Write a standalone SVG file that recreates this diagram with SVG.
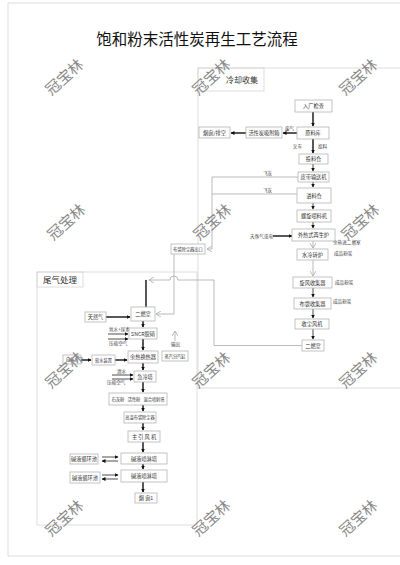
<svg xmlns="http://www.w3.org/2000/svg" width="400" height="565" viewBox="0 0 400 565">
<style>
.bx{fill:#fff;stroke:#b5b5b5;stroke-width:0.8}
.t{font-family:"Noto Sans CJK SC","Noto Sans",sans-serif;font-size:5.2px;fill:#333;text-anchor:middle}
.ts{font-family:"Noto Sans CJK SC","Noto Sans",sans-serif;font-size:4.2px;fill:#333;text-anchor:middle}
.tl{font-family:"Noto Sans CJK SC","Noto Sans",sans-serif;font-size:4.6px;fill:#444}
.blk{stroke:#111;stroke-width:1.4;fill:none}
.thn{stroke:#222;stroke-width:0.8;fill:none}
.gry{stroke:#aaa;stroke-width:0.8;fill:none}
.sec{fill:none;stroke:#d4d4d4;stroke-width:0.8}
.wm{font-family:"Noto Sans CJK SC",sans-serif;font-size:15px;fill:#8a8a8a;text-anchor:middle}
</style>
<defs>
<marker id="ab" markerWidth="4" markerHeight="4" refX="3.5" refY="2" orient="auto" markerUnits="userSpaceOnUse"><path d="M0,0 L4,2 L0,4 Z" fill="#111"/></marker>
<marker id="ag" markerWidth="6" markerHeight="6" refX="5" refY="3" orient="auto" markerUnits="userSpaceOnUse"><path d="M0,0 L5,3 L0,6" fill="none" stroke="#aaa" stroke-width="0.8"/></marker>
</defs>
<rect width="400" height="565" fill="#fff"/>
<path class="sec" d="M8,3 H400 M8,3 V556 H400"/>
<text x="197" y="45" font-family="'Noto Sans CJK SC',sans-serif" font-size="15.5" fill="#111" text-anchor="middle">饱和粉末活性炭再生工艺流程</text>
<g id="sections">
<path class="sec" d="M198,68 H400 M198,68 V388 H400"/>
<rect class="sec" x="198" y="68" width="66" height="23"/>
<text x="242" y="83" font-family="'Noto Sans CJK SC',sans-serif" font-size="8" fill="#333" text-anchor="middle">冷却收集</text>
<rect class="sec" x="37" y="272" width="160" height="253"/>
<rect class="sec" x="37" y="272" width="46" height="15"/>
<text x="60" y="283" font-family="'Noto Sans CJK SC',sans-serif" font-size="8.5" fill="#333" text-anchor="middle">尾气处理</text>
</g>
<g id="connectors">
<path class="blk" d="M313,112 V126" marker-end="url(#ab)"/>
<path class="blk" d="M297,133 H283" marker-end="url(#ab)"/>
<path class="blk" d="M246,133 H231" marker-end="url(#ab)"/>
<path class="blk" d="M313,139 V153" marker-end="url(#ab)"/>
<path class="thn" d="M313,164 V171" marker-end="url(#ab)"/>
<path class="thn" d="M313,182 V187" marker-end="url(#ab)"/>
<path class="thn" d="M313,203 V209" marker-end="url(#ab)"/>
<path class="thn" d="M313,222 V228" marker-end="url(#ab)"/>
<path class="blk" d="M273,236 H292" marker-end="url(#ab)"/>
<path class="gry" d="M313,241 V248" marker-end="url(#ag)"/>
<path class="gry" d="M313,260 V276" marker-end="url(#ag)"/>
<path class="thn" d="M313,288 V297" marker-end="url(#ab)"/>
<path class="thn" d="M313,309 V318" marker-end="url(#ab)"/>
<path class="thn" d="M313,329 V339" marker-end="url(#ab)"/>
<path class="gry" d="M298,177 H212 V249 H207" marker-end="url(#ag)"/>
<path class="gry" d="M297,194 H212"/>
<path class="gry" d="M302,345.5 H214 V280 H178 A4,4 0 0 0 170,280 H149" marker-end="url(#ag)"/>
<path class="gry" d="M174,254 V314 H156" marker-end="url(#ag)"/>
<path class="blk" d="M146,280 V307"/>
<path class="blk" d="M106,317 H130" marker-end="url(#ab)"/>
<path class="thn" d="M108,334 H128" marker-end="url(#ab)"/>
<path class="thn" d="M108,339 H128" marker-end="url(#ab)"/>
<path class="blk" d="M143,321 V327" marker-end="url(#ab)"/>
<path class="blk" d="M143,339 V350" marker-end="url(#ab)"/>
<path class="blk" d="M81,360 H91" marker-end="url(#ab)"/>
<path class="blk" d="M115,360 H127" marker-end="url(#ab)"/>
<path class="gry" d="M175,341 V331" marker-end="url(#ag)"/>
<path class="blk" d="M143,363 V370" marker-end="url(#ab)"/>
<path class="thn" d="M112,375 H133" marker-end="url(#ab)"/>
<path class="thn" d="M112,379 H133" marker-end="url(#ab)"/>
<path class="blk" d="M143,382 V392" marker-end="url(#ab)"/>
<path class="blk" d="M143,405 V411" marker-end="url(#ab)"/>
<path class="blk" d="M143,423 V430" marker-end="url(#ab)"/>
<path class="blk" d="M143,442 V452" marker-end="url(#ab)"/>
<path class="blk" d="M143,464 V469" marker-end="url(#ab)"/>
<path class="blk" d="M143,482 V492" marker-end="url(#ab)"/>
<path class="thn" d="M102,457 H118" marker-end="url(#ab)"/>
<path class="thn" d="M118,461 H102" marker-end="url(#ab)"/>
<path class="thn" d="M102,475 H118" marker-end="url(#ab)"/>
<path class="thn" d="M118,479 H102" marker-end="url(#ab)"/>
<text class="tl" x="285" y="130">废气</text>
<text class="tl" x="302" y="148" text-anchor="end">叉车</text>
<text class="tl" x="318" y="148">投料</text>
<text class="tl" x="263" y="175">飞灰</text>
<text class="tl" x="263" y="192">飞灰</text>
<text class="tl" x="250" y="238">天然气或电</text>
<text class="tl" x="333" y="244">余热进二燃室</text>
<text class="tl" x="334" y="255">成品粉炭</text>
<text class="tl" x="335" y="284">成品粉炭</text>
<text class="tl" x="333" y="303">成品粉炭</text>
<text class="tl" x="109" y="331">氨水+尿素</text>
<text class="tl" x="109" y="345">压缩空气</text>
<text class="tl" x="171" y="346">输出</text>
<text class="tl" x="117" y="373">清水</text>
<text class="tl" x="107" y="384">压缩空气</text>
</g>
<g id="n_rcjc"><rect class="bx" x="295" y="100" width="37" height="12"/><text class="t" x="313.5" y="108">入厂检查</text></g>
<g id="n_ylk"><rect class="bx" x="297" y="127" width="32" height="12"/><text class="t" x="313" y="135">原料库</text></g>
<g id="n_xfx"><rect class="bx" x="246" y="127" width="36" height="11"/><text class="t" x="264" y="134.5">活性炭吸附箱</text></g>
<g id="n_pk"><rect class="bx" x="199" y="127" width="31" height="11"/><text class="t" x="214.5" y="134.5">烟囱/排空</text></g>
<g id="n_tlc"><rect class="bx" x="299" y="154" width="29" height="10"/><text class="t" x="313.5" y="161">投料仓</text></g>
<g id="n_pd"><rect class="bx" x="298" y="172" width="31" height="10"/><text class="t" x="313.5" y="179">皮带输送机</text></g>
<g id="n_jlc"><rect class="bx" x="297" y="188" width="34" height="15"/><text class="t" x="314" y="197.5">进料仓</text></g>
<g id="n_lx"><rect class="bx" x="297" y="210" width="34" height="12"/><text class="t" x="314" y="218">螺旋喂料机</text></g>
<g id="n_wrs"><rect class="bx" x="292" y="229" width="43" height="12"/><text class="t" x="313.5" y="237">外热式再生炉</text></g>
<g id="n_sl"><rect class="bx" x="297" y="249" width="31" height="11"/><text class="t" x="312.5" y="256.5">水冷转炉</text></g>
<g id="n_xf"><rect class="bx" x="293" y="277" width="39" height="11"/><text class="t" x="312.5" y="284.5">旋风收集器</text></g>
<g id="n_bd"><rect class="bx" x="294" y="298" width="37" height="11"/><text class="t" x="312.5" y="305.5">布袋收集器</text></g>
<g id="n_sc"><rect class="bx" x="295" y="319" width="34" height="10"/><text class="t" x="312" y="326">收尘风机</text></g>
<g id="n_ers_r"><rect class="bx" x="302" y="340" width="22" height="11"/><text class="t" x="313" y="347.5">二燃室</text></g>
<g id="n_bdck"><rect class="bx" x="171" y="244" width="34" height="10"/><text class="ts" x="188" y="250.7">布袋除尘器出口</text></g>
<g id="n_ers"><rect class="bx" x="131" y="307" width="24" height="14"/><text class="t" x="143" y="316">二燃室</text></g>
<g id="n_trq"><rect class="bx" x="85" y="312" width="21" height="10"/><text class="t" x="95.5" y="319">天然气</text></g>
<g id="n_sncr"><rect class="bx" x="129" y="328" width="28" height="11"/><text class="t" x="143" y="335.5">SNCR脱硝</text></g>
<g id="n_yr"><rect class="bx" x="128" y="351" width="30" height="12"/><text class="t" x="143" y="359">余热换热器</text></g>
<g id="n_rs"><rect class="bx" x="92" y="355" width="23" height="10"/><text class="ts" x="103.5" y="361.5">软水装置</text></g>
<g id="n_zls"><rect class="bx" x="63" y="355" width="18" height="9"/><text class="ts" x="72" y="361">自来水</text></g>
<g id="n_zq"><rect class="bx" x="162" y="351" width="26" height="10"/><text class="ts" x="175" y="357.5">蒸汽分汽缸</text></g>
<g id="n_jlt"><rect class="bx" x="134" y="371" width="22" height="11"/><text class="t" x="145" y="378.5">急冷塔</text></g>
<g id="n_shf"><rect class="bx" x="109" y="393" width="58" height="12"/><text class="ts" x="118" y="400.5">石灰粉</text><text class="ts" x="134" y="400.5">活性粉</text><text class="ts" x="154" y="400.5">混合喷射塔</text></g>
<g id="n_gw"><rect class="bx" x="124" y="412" width="32" height="11"/><text class="ts" x="140" y="419">高温布袋除尘器</text></g>
<g id="n_zy"><rect class="bx" x="128" y="431" width="32" height="11"/><text class="t" x="144" y="438.5">主 引 风 机</text></g>
<g id="n_pl1"><rect class="bx" x="121" y="453" width="46" height="11"/><text class="t" x="144" y="460.5">碱液喷淋塔</text></g>
<g id="n_xh1"><rect class="bx" x="70" y="454" width="28" height="10"/><text class="t" x="84" y="461">碱液循环池</text></g>
<g id="n_pl2"><rect class="bx" x="121" y="470" width="46" height="12"/><text class="t" x="144" y="478">碱液喷淋塔</text></g>
<g id="n_xh2"><rect class="bx" x="70" y="472" width="30" height="11"/><text class="t" x="85" y="479.5">碱液循环池</text></g>
<g id="n_yc"><rect class="bx" x="135" y="493" width="22" height="10"/><text class="t" x="146" y="500">烟 囱1</text></g>
<g id="watermarks">
<text class="wm" transform="translate(68,81) rotate(-42)">冠宝林</text>
<text class="wm" transform="translate(215,81) rotate(-42)">冠宝林</text>
<text class="wm" transform="translate(362,81) rotate(-42)">冠宝林</text>
<text class="wm" transform="translate(70,226) rotate(-42)">冠宝林</text>
<text class="wm" transform="translate(216,226) rotate(-42)">冠宝林</text>
<text class="wm" transform="translate(364,226) rotate(-42)">冠宝林</text>
<text class="wm" transform="translate(68,374) rotate(-42)">冠宝林</text>
<text class="wm" transform="translate(215,374) rotate(-42)">冠宝林</text>
<text class="wm" transform="translate(362,374) rotate(-42)">冠宝林</text>
<text class="wm" transform="translate(68,522) rotate(-42)">冠宝林</text>
<text class="wm" transform="translate(215,522) rotate(-42)">冠宝林</text>
<text class="wm" transform="translate(362,522) rotate(-42)">冠宝林</text>
</g>
</svg>
